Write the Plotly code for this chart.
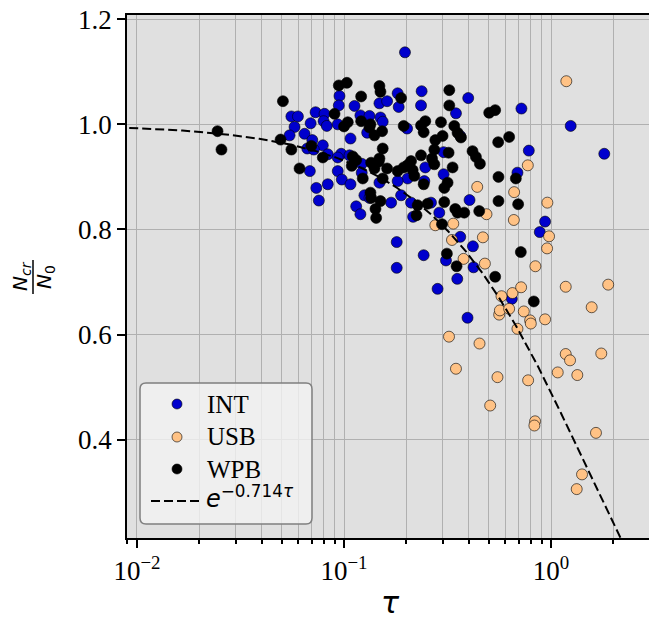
import numpy as np
import plotly.graph_objects as go

# ---- data (tau, N_cr/N_0) ----
int_tau = [0.197, 0.0951, 0.0944, 0.1124, 0.0729, 0.0805, 0.0557, 0.0599, 0.0797, 0.0826,
           0.069, 0.0933, 0.0577, 0.120, 0.1294, 0.0645, 0.0546, 0.1075, 0.0703, 0.079,
           0.0665, 0.0715, 0.0835, 0.0969, 0.0933, 0.1063, 0.1218, 0.0684, 0.0933, 0.0976,
           0.1218, 0.1075, 0.0835, 0.0735, 0.0756, 0.1255, 0.1145, 0.1816, 0.2371, 0.1483,
           0.1615, 0.1837, 0.2355, 0.3473, 0.1327, 0.150, 0.1538, 0.2017, 0.3643, 0.3027,
           0.247, 0.3027, 0.2443, 0.203, 0.1816, 0.1483, 0.1887, 0.1689, 0.2108, 0.2631,
           0.398, 0.7193, 0.7808, 1.244, 1.807, 0.6881, 0.4039, 0.9357, 0.8821, 0.2885,
           0.3643, 0.4194, 0.3108, 0.4222, 0.3524, 0.1797, 0.2425, 0.1797, 0.2831, 0.6466,
           0.395, 0.120, 0.2156, 0.1327]
int_ratio = [1.137, 1.054, 1.036, 1.035, 1.023, 1.020, 1.015, 1.015, 1.006, 0.997,
             1.002, 1.000, 0.995, 1.017, 0.984, 0.982, 0.979, 0.973, 0.970, 0.960,
             0.954, 0.952, 0.943, 0.944, 0.937, 0.941, 0.925, 0.911, 0.911, 0.895,
             0.908, 0.886, 0.886, 0.879, 0.855, 0.865, 0.844, 1.059, 1.063, 1.040,
             1.044, 1.033, 1.036, 1.021, 1.016, 1.013, 1.005, 0.992, 0.978, 0.947,
             0.918, 0.905, 0.892, 0.897, 0.892, 0.889, 0.865, 0.851, 0.851, 0.851,
             1.050, 1.030, 0.950, 0.997, 0.944, 0.908, 0.856, 0.815, 0.795, 0.832,
             0.786, 0.768, 0.741, 0.728, 0.706, 0.776, 0.751, 0.727, 0.687, 0.668,
             0.632, 0.829, 0.824, 0.860]

usb_tau = [1.185, 0.7722, 0.440, 0.6633, 0.9598, 0.4877, 0.6611, 0.978, 0.9566, 0.2761,
           0.3371, 0.3323, 0.4686, 0.3779, 0.4791, 0.840, 1.177, 1.888, 1.571, 0.5762,
           0.6509, 0.7168, 0.5616, 0.566, 0.6275, 0.7386, 0.7922, 0.7984, 0.9357, 0.6881,
           0.3214, 0.4513, 0.3473, 0.5511, 0.7749, 1.177, 1.235, 1.748, 1.077, 1.339,
           0.5082, 0.8373, 0.8308, 1.648, 1.411, 1.330]
usb_ratio = [1.082, 0.922, 0.881, 0.871, 0.851, 0.829, 0.818, 0.787, 0.764, 0.808,
             0.811, 0.780, 0.785, 0.744, 0.735, 0.730, 0.691, 0.695, 0.652, 0.673,
             0.679, 0.690, 0.638, 0.646, 0.649, 0.644, 0.627, 0.621, 0.629, 0.611,
             0.596, 0.583, 0.535, 0.519, 0.513, 0.563, 0.551, 0.564, 0.528, 0.523,
             0.465, 0.435, 0.427, 0.413, 0.334, 0.306]

wpb_tau = [0.0245, 0.0256, 0.0507, 0.0494, 0.0557, 0.061, 0.0695, 0.079, 0.0944, 0.1032,
           0.121, 0.090, 0.100, 0.1043, 0.121, 0.1342, 0.1102, 0.1145, 0.109, 0.1232,
           0.1342, 0.1483, 0.150, 0.1887, 0.3225, 0.3225, 0.1327, 0.1528, 0.1403, 0.1942,
           0.2355, 0.247, 0.2425, 0.294, 0.3408, 0.3535, 0.2993, 0.2761, 0.1538, 0.273,
           0.1483, 0.1352, 0.2108, 0.2355, 0.2661, 0.273, 0.1403, 0.1615, 0.1816, 0.1942,
           0.2146, 0.2187, 0.3345, 0.1538, 0.3164, 0.305, 0.2425, 0.1352, 0.150, 0.2268,
           0.305, 0.1419, 0.143, 0.224, 0.2534, 0.4175, 0.4336, 0.4533, 0.5025, 0.5372,
           0.6275, 0.5554, 0.5572, 0.676, 0.5572, 0.6934, 0.4498, 0.3446, 0.3535, 0.3808,
           0.2973, 0.314, 0.3497, 0.5372, 0.7145, 0.8253, 0.203, 0.320, 0.1471, 0.3672]
wpb_ratio = [0.987, 0.952, 1.044, 0.971, 0.952, 0.916, 0.959, 0.937, 1.074, 1.079,
             1.053, 1.020, 0.996, 1.004, 1.006, 1.000, 0.939, 0.932, 0.921, 0.897,
             0.870, 1.073, 1.062, 1.050, 1.065, 1.036, 0.994, 0.987, 0.979, 0.997,
             0.998, 1.006, 0.985, 1.004, 0.997, 0.984, 0.978, 0.970, 0.954, 0.952,
             0.935, 0.927, 0.930, 0.941, 0.935, 0.924, 0.916, 0.916, 0.911, 0.918,
             0.913, 0.902, 0.918, 0.897, 0.889, 0.879, 0.886, 0.860, 0.854, 0.846,
             0.852, 0.839, 0.822, 0.827, 0.849, 0.949, 0.938, 0.925, 1.022, 1.027,
             0.976, 0.966, 0.900, 0.897, 0.854, 0.848, 0.835, 0.839, 0.832, 0.832,
             0.810, 0.754, 0.730, 0.710, 0.757, 0.663, 0.9225, 0.946, 0.929, 0.975]

fit_coef = 0.714
series_names = ["INT", "USB", "WPB"]
series_colors = ["#0000CD", "#FFC285", "black"]
fit_label = "<i>e</i><sup>\u22120.714<i>\u03c4</i></sup>"
x_tickvals = [0.01, 0.1, 1]
x_ticktext = ["10<sup>\u22122</sup>", "10<sup>\u22121</sup>", "10<sup>0</sup>"]
y_tickvals = [0.4, 0.6, 0.8, 1.0, 1.2]
y_ticktext = ["0.4", "0.6", "0.8", "1.0", "1.2"]

SERIF = "Liberation Serif, Times New Roman, serif"
SANS = "DejaVu Sans, sans-serif"

# plot-area geometry (pixels in the 649x623 page)
W, H = 649, 623
L, R, T, B = 127, 0, 15, 85
PW, PH = W - L - R, H - T - B


def px(xpix):
    return (xpix - L) / PW


def py(ypix):
    return (H - B - ypix) / PH


fig = go.Figure()
mk_line = dict(color="black", width=0.6)
for name, col, xs, ys in zip(series_names, series_colors,
                             [int_tau, usb_tau, wpb_tau], [int_ratio, usb_ratio, wpb_ratio]):
    fig.add_trace(go.Scatter(x=xs, y=ys, mode="markers", name=name,
                             marker=dict(size=11, color=col, line=mk_line)))

tau_fit = np.logspace(-2.1, 0.5, 400)
fig.add_trace(go.Scatter(x=tau_fit, y=np.exp(-fit_coef * tau_fit), mode="lines",
                         name="fit", line=dict(color="black", width=2, dash="9px,4px")))

minor_vals = [k * 10.0 ** e for e in (-3, -2, -1, 0) for k in range(2, 10)]

fig.update_layout(
    width=W, height=H,
    margin=dict(l=L, r=R, t=T, b=B),
    paper_bgcolor="white", plot_bgcolor="#E0E0E0",
    font=dict(family=SERIF, size=27, color="black"),
    showlegend=False,
)
fig.update_xaxes(
    type="log", range=[-2.048, 0.473],
    tickvals=x_tickvals, ticktext=x_ticktext,
    ticks="outside", ticklen=8, tickwidth=1.5, tickcolor="black",
    showline=True, linecolor="black", linewidth=1.5, mirror=True,
    showgrid=True, gridcolor="#B0B0B0", gridwidth=1,
    zeroline=False, automargin=False,
    tickfont=dict(family=SERIF, size=27),
    minor=dict(tickvals=minor_vals, ticks="outside", ticklen=4, tickcolor="black",
               showgrid=True, gridcolor="#B0B0B0", gridwidth=1),
)
fig.update_yaxes(
    range=[0.213, 1.208],
    tickvals=y_tickvals, ticktext=y_ticktext,
    ticks="outside", ticklen=8, tickwidth=1.5, tickcolor="black",
    showline=True, linecolor="black", linewidth=1.5, mirror=False,
    showgrid=True, gridcolor="#B0B0B0", gridwidth=1,
    zeroline=False, automargin=False,
    tickfont=dict(family=SERIF, size=27),
)

# ---- legend (rounded frame, symbols, labels) ----
x0, x1, yb, yt = px(140), px(312), py(524), py(383)
rx, ry = 6 / PW, 6 / PH
path = (f"M {x0+rx},{yb} L {x1-rx},{yb} Q {x1},{yb} {x1},{yb+ry} "
        f"L {x1},{yt-ry} Q {x1},{yt} {x1-rx},{yt} L {x0+rx},{yt} "
        f"Q {x0},{yt} {x0},{yt-ry} L {x0},{yb+ry} Q {x0},{yb} {x0+rx},{yb} Z")
fig.add_shape(type="path", path=path, xref="paper", yref="paper", layer="above",
              fillcolor="rgba(242,242,242,0.8)", line=dict(color="#7F7F7F", width=1.5))

row_y = [404, 437, 469]
for name, col, yy in zip(series_names, series_colors, row_y):
    fig.add_shape(type="circle", xref="paper", yref="paper", layer="above",
                  xsizemode="pixel", ysizemode="pixel",
                  xanchor=px(177), yanchor=py(yy), x0=-5, x1=5, y0=-5, y1=5,
                  fillcolor=col, line=dict(color="black", width=0.6))
    fig.add_annotation(x=px(205), y=py(yy), xref="paper", yref="paper", showarrow=False,
                       text=name, font=dict(family=SERIF, size=25, color="black"),
                       xanchor="left", yanchor="middle")
fig.add_shape(type="line", xref="paper", yref="paper", layer="above",
              x0=px(151), x1=px(203), y0=py(501), y1=py(501),
              line=dict(color="black", width=2, dash="9px,4px"))
fig.add_annotation(x=px(204), y=py(497), xref="paper", yref="paper", showarrow=False,
                   text=fit_label, font=dict(family=SANS, size=24, color="black"),
                   xanchor="left", yanchor="middle")

# ---- axis titles ----
fig.add_annotation(x=px(390), y=py(622), xref="paper", yref="paper", showarrow=False,
                   text="<i>\u03c4</i>", font=dict(family=SANS, size=30),
                   xanchor="center", yanchor="bottom")
fig.add_annotation(x=px(21), y=py(276), xref="paper", yref="paper",
                   showarrow=False, textangle=-90,
                   text="<i>N</i><sub><i>cr</i></sub>", font=dict(family=SANS, size=20),
                   xanchor="center", yanchor="middle")
fig.add_annotation(x=px(45), y=py(277), xref="paper", yref="paper",
                   showarrow=False, textangle=-90,
                   text="<i>N</i><sub>0</sub>", font=dict(family=SANS, size=20),
                   xanchor="center", yanchor="middle")
fig.add_shape(type="line", xref="paper", yref="paper",
              x0=px(33), x1=px(33), y0=py(260), y1=py(294),
              line=dict(color="black", width=1.5))

fig.write_html("out.html", config={"displayModeBar": False},
               post_script="document.body.style.margin='0px';")
